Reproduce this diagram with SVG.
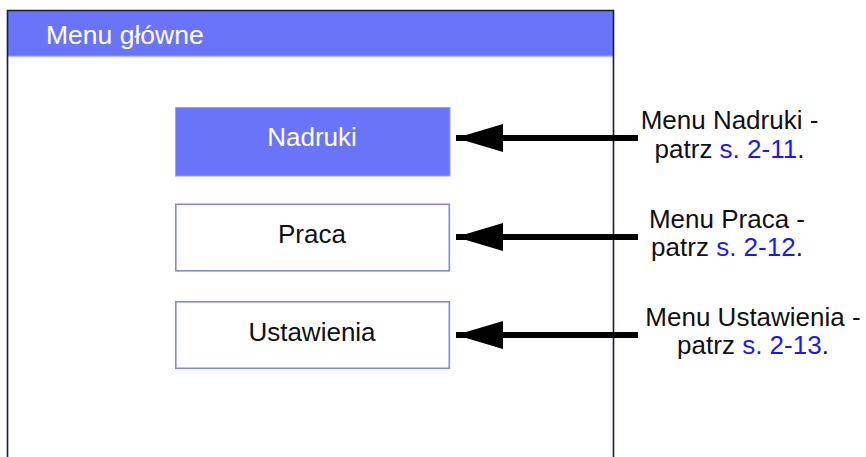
<svg xmlns="http://www.w3.org/2000/svg" width="866" height="457" viewBox="0 0 866 457">
<style>
.lbl{font-family:"Liberation Sans",Arial,sans-serif;font-size:26px;fill:#111;text-anchor:middle}
.lnk{fill:#1a1af0}
.btn{font-family:"Liberation Sans",Arial,sans-serif;font-size:26px;text-anchor:middle}
.box{fill:#ffffff;stroke:#8088e0;stroke-width:1.6}
.sel{fill:#6a74f8;stroke:#9aa0f0;stroke-width:1}
.shaft{stroke:#000;stroke-width:6;fill:none}
</style>
<defs>
<marker id="ah" markerUnits="userSpaceOnUse" markerWidth="48" markerHeight="28" refX="47" refY="14" orient="auto" viewBox="0 0 48 28">
<path d="M47,14 L0,0 L0,28 Z" fill="#000"/>
</marker>
</defs>
<rect width="866" height="457" fill="#fff"/>
<g id="screen">
<rect x="7.5" y="10.5" width="606.5" height="46" fill="#6a74f8"/>
<line x1="8" y1="56.5" x2="614" y2="56.5" stroke="#b8bce0" stroke-width="1.5"/>
<path d="M7.5,457 V10.5 H613.5 V457" fill="none" stroke="#1a1a3a" stroke-width="1.6"/>
<text x="46" y="44" font-family="Liberation Sans,Arial,sans-serif" font-size="26.5" fill="#fff">Menu główne</text>
</g>
<g id="nadruki">
<rect class="sel" x="175.5" y="107.5" width="274.5" height="68.5"/>
<text class="btn" x="312" y="146" fill="#fff">Nadruki</text>
</g>
<g id="praca">
<rect class="box" x="175.8" y="204.3" width="273.5" height="66.5"/>
<text class="btn" x="312" y="243" fill="#111">Praca</text>
</g>
<g id="ustawienia">
<rect class="box" x="175.8" y="301.8" width="273.5" height="66.5"/>
<text class="btn" x="312" y="341" fill="#111">Ustawienia</text>
</g>
<g id="connectors">
<line class="shaft" x1="638" y1="138" x2="456" y2="138" marker-end="url(#ah)"/>
<line class="shaft" x1="638" y1="237" x2="456" y2="237" marker-end="url(#ah)"/>
<line class="shaft" x1="638" y1="335" x2="456" y2="335" marker-end="url(#ah)"/>
</g>
<g id="label-nadruki">
<text class="lbl" x="729.5" y="129">Menu Nadruki -</text>
<text class="lbl" x="729.5" y="158">patrz <tspan class="lnk">s. 2-11</tspan>.</text>
</g>
<g id="label-praca">
<text class="lbl" x="727" y="228">Menu Praca -</text>
<text class="lbl" x="727" y="256">patrz <tspan class="lnk">s. 2-12</tspan>.</text>
</g>
<g id="label-ustawienia">
<text class="lbl" x="753" y="326">Menu Ustawienia -</text>
<text class="lbl" x="753" y="354">patrz <tspan class="lnk">s. 2-13</tspan>.</text>
</g>
</svg>
